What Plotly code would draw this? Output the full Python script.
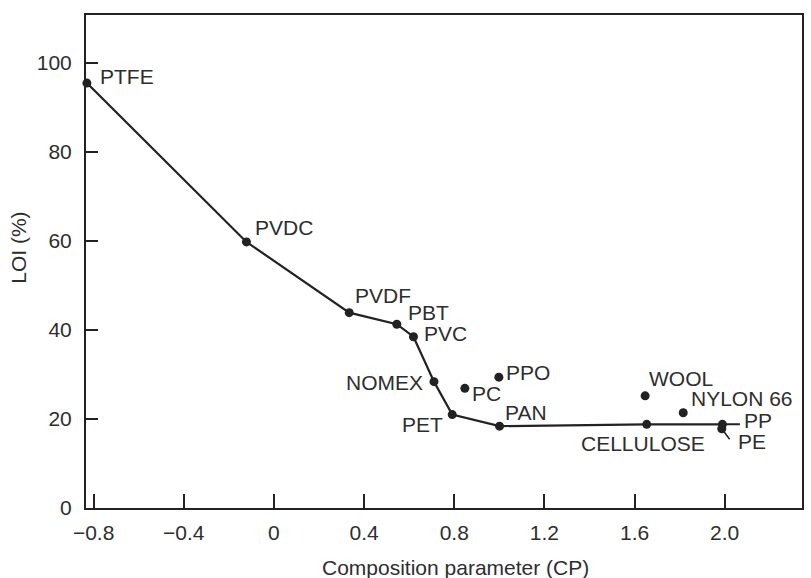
import plotly.graph_objects as go

# ---- data ----
line_names = ["PTFE", "PVDC", "PVDF", "PBT", "PVC", "NOMEX", "PET", "PAN", "CELLULOSE", "PP"]
line_cp = [-0.83, -0.122, 0.334, 0.545, 0.619, 0.710, 0.791, 1.001, 1.654, 1.99]
line_loi = [95.5, 59.8, 43.9, 41.3, 38.5, 28.4, 21.0, 18.4, 18.8, 18.8]

other_names = ["PC", "PPO", "WOOL", "NYLON 66", "PE"]
other_cp = [0.847, 0.998, 1.647, 1.816, 1.987]
other_loi = [26.9, 29.4, 25.2, 21.4, 17.8]

x_tickvals = [-0.8, -0.4, 0, 0.4, 0.8, 1.2, 1.6, 2.0]
x_ticktext = ["\u22120.8", "\u22120.4", "0", "0.4", "0.8", "1.2", "1.6", "2.0"]
y_tickvals = [0, 20, 40, 60, 80, 100]
y_ticktext = ["0", "20", "40", "60", "80", "100"]

# ---- label offsets in pixels (style) ----
label_offsets = {
    "PTFE": (40, 7), "PVDC": (38, 14), "PVDF": (34, 17), "PBT": (32, 12),
    "PVC": (32, 3), "NOMEX": (-49, -1), "PET": (-30, -10), "PAN": (26, 14),
    "CELLULOSE": (-4, -19), "PP": (36, 4), "PC": (22, -5), "PPO": (29, 5),
    "WOOL": (36, 17), "NYLON 66": (59, 14), "PE": (30, -13),
}

INK = "#222222"
TXT = "#2e2e2e"
FONT = "Liberation Sans, Arial, sans-serif"
FS = 21

fig = go.Figure()
fig.add_trace(go.Scatter(
    x=line_cp, y=line_loi, mode="lines+markers",
    line=dict(color=INK, width=2.2),
    marker=dict(color=INK, size=9),
    cliponaxis=False, showlegend=False, hoverinfo="skip",
))
fig.add_trace(go.Scatter(
    x=other_cp, y=other_loi, mode="markers",
    marker=dict(color=INK, size=9),
    cliponaxis=False, showlegend=False, hoverinfo="skip",
))

annotations = []
all_pts = list(zip(line_names, line_cp, line_loi)) + list(zip(other_names, other_cp, other_loi))
for name, xv, yv in all_pts:
    dx, dy = label_offsets[name]
    annotations.append(dict(
        x=xv, y=yv, xref="x", yref="y", text=name, showarrow=False,
        xshift=dx, yshift=dy, xanchor="center", yanchor="middle",
        font=dict(family=FONT, size=FS, color=TXT),
    ))

# leader lines for PP and PE
pp_i = line_names.index("PP")
pe_i = other_names.index("PE")
annotations.append(dict(x=line_cp[pp_i], y=line_loi[pp_i], xref="x", yref="y", text="",
                        showarrow=True, arrowhead=0, arrowwidth=2, arrowcolor=INK,
                        ax=19, ay=0, standoff=0, startstandoff=0))
annotations.append(dict(x=other_cp[pe_i], y=other_loi[pe_i], xref="x", yref="y", text="",
                        showarrow=True, arrowhead=0, arrowwidth=1.5, arrowcolor=INK,
                        ax=9, ay=12, standoff=0, startstandoff=0))

# axis titles
annotations.append(dict(x=0.5167, y=-0.121, xref="paper", yref="paper",
                        text="Composition parameter (CP)", showarrow=False,
                        xanchor="center", yanchor="middle",
                        font=dict(family=FONT, size=FS, color=TXT)))
annotations.append(dict(x=-0.0935, y=0.528, xref="paper", yref="paper",
                        text="LOI (%)", showarrow=False, textangle=-90,
                        xanchor="center", yanchor="middle",
                        font=dict(family=FONT, size=FS, color=TXT)))

fig.update_layout(
    width=811, height=578,
    margin=dict(l=86, r=7, t=15, b=70),
    paper_bgcolor="white", plot_bgcolor="white",
    font=dict(family=FONT, size=FS, color=TXT),
    annotations=annotations,
)
fig.update_xaxes(
    range=[-0.834, 2.343], tickvals=x_tickvals, ticktext=x_ticktext,
    ticks="inside", ticklen=14, tickwidth=2, tickcolor=INK,
    showline=True, linecolor=INK, linewidth=2, mirror=True,
    showgrid=False, zeroline=False, ticklabelstandoff=5,
    tickfont=dict(family=FONT, size=FS, color=TXT),
)
fig.update_yaxes(
    range=[0, 110.8], tickvals=y_tickvals, ticktext=y_ticktext,
    ticks="inside", ticklen=12, tickwidth=2, tickcolor=INK,
    showline=True, linecolor=INK, linewidth=2, mirror=True,
    showgrid=False, zeroline=False, ticklabelstandoff=8,
    tickfont=dict(family=FONT, size=FS, color=TXT),
)

fig.write_html("out.html")
